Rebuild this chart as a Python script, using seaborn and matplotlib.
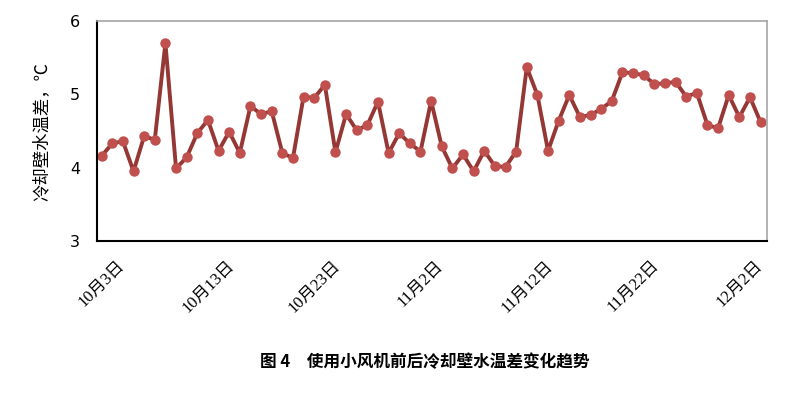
import numpy as np
import pandas as pd
import seaborn as sns
import matplotlib.pyplot as plt

sns.set_theme(style="white")
plt.rcParams['font.family'] = ['Noto Sans CJK SC', 'DejaVu Sans']
plt.rcParams['axes.unicode_minus'] = False

# daily water temperature difference, Oct 3 .. Dec 4
temp_diff = [4.16, 4.33, 4.36, 3.95, 4.43, 4.38, 5.70, 3.99, 4.14, 4.47,
             4.65, 4.23, 4.49, 4.20, 4.84, 4.73, 4.77, 4.20, 4.13, 4.97,
             4.95, 5.13, 4.21, 4.73, 4.51, 4.58, 4.90, 4.20, 4.47, 4.33,
             4.22, 4.91, 4.29, 3.99, 4.18, 3.95, 4.23, 4.02, 4.01, 4.22,
             5.37, 4.99, 4.23, 4.64, 4.99, 4.69, 4.72, 4.80, 4.91, 5.30,
             5.29, 5.26, 5.14, 5.15, 5.17, 4.97, 5.02, 4.58, 4.54, 4.99,
             4.69, 4.96, 4.62]
tick_pos = [0, 10, 20, 30, 40, 50, 60]
tick_labels = ["10月3日", "10月13日", "10月23日", "11月2日", "11月12日", "11月22日", "12月2日"]
y_ticks = [3, 4, 5, 6]

df = pd.DataFrame({"day": np.arange(len(temp_diff)), "diff": temp_diff})

fig = plt.figure(figsize=(8.06, 3.98), dpi=100)
ax = fig.add_axes([0.1203, 0.3945, 0.8313, 0.5527])

sns.lineplot(data=df, x="day", y="diff", ax=ax, color="#953735", linewidth=2.8,
             marker="o", markersize=7.5, markerfacecolor="#C0504D",
             markeredgecolor="#C0504D", markeredgewidth=0)

ax.set_xlim(-0.44, 62.6)
ax.set_ylim(3, 6)
ax.set_yticks(y_ticks)
ax.set_yticklabels([str(v) for v in y_ticks], fontsize=11.5, family=['DejaVu Sans'])
ax.set_xticks(tick_pos)
ax.set_xticklabels(tick_labels, rotation=45, ha="center", va="top",
                   fontsize=12, family=['Liberation Serif', 'Noto Sans CJK SC'])
ax.tick_params(axis='y', length=0, pad=12, colors='black')
ax.tick_params(axis='x', length=0, pad=12, colors='black')

ax.set_xlabel("")
ax.set_ylabel("冷却壁水温差，℃", fontsize=12.5, labelpad=14, color='black')

for side in ["left", "bottom"]:
    ax.spines[side].set_color("black")
    ax.spines[side].set_linewidth(1.5)
for side in ["top", "right"]:
    ax.spines[side].set_color("#A6A6A6")
    ax.spines[side].set_linewidth(1.2)

fig.text(0.527, 0.09, "图 4　使用小风机前后冷却壁水温差变化趋势", ha="center", va="center",
         fontsize=12, fontweight="bold", color="black")

fig.savefig("out.png", dpi=100)
